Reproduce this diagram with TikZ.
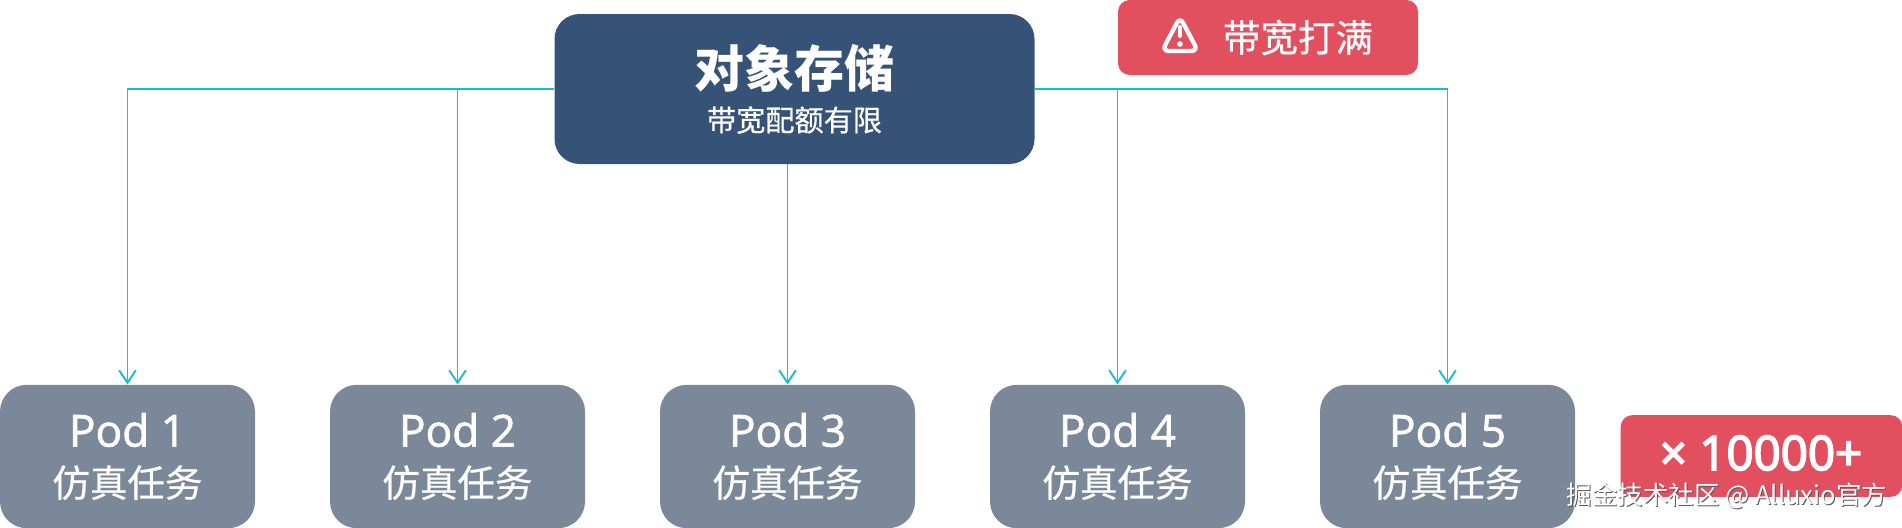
\documentclass[tikz,border=0pt]{standalone}
\usepackage{fontspec}
\setmainfont{Open Sans}
\newfontfamily\podfont[FakeBold=1.5]{Open Sans}
\newfontfamily\scalefont[FakeBold=3.5]{Open Sans}
\newfontfamily\cjk{Noto Sans CJK SC}
\newfontfamily\cjkmed[FakeBold=0.6]{Noto Sans CJK SC}
\usetikzlibrary{arrows.meta}
\definecolor{storeblue}{RGB}{55,82,119}
\definecolor{podgray}{RGB}{123,136,153}
\definecolor{alertred}{RGB}{226,80,96}
\definecolor{linecyan}{RGB}{20,192,208}

\begin{document}
\begin{tikzpicture}[x=0.6pt,y=0.6pt,yscale=-1,xscale=1,
  pod/.style = {fill=podgray, text=white, rounded corners=16pt, minimum width=153pt, minimum height=86pt, inner sep=0pt, align=center},
  store/.style = {fill=storeblue, text=white, rounded corners=15pt, minimum width=288pt, minimum height=90pt, inner sep=0pt, align=center},
  alert/.style = {fill=alertred, text=white, rounded corners=7pt, inner sep=0pt},
  link/.style = {draw=linecyan, line width=1.15pt},
  ->,
  >={Straight Barb[length=7.5pt,width=10pt]}
  ]

  \useasboundingbox (0,0) rectangle (1902,528);

  \node[store] (objstore) at (794.5,89) {{\cjk\bfseries\fontsize{30}{34}\selectfont 对象存储}\\[7.5pt]{\cjkmed\fontsize{17.5}{20}\selectfont 带宽配额有限}};

  \foreach \i/\x in {1/127.5,2/457.5,3/787.5,4/1117.5,5/1447.5}{
    \node[pod] (pod\i) at (\x,456.5) {{\podfont\fontsize{26.5}{28}\selectfont Pod \i}\\[10pt]{\cjkmed\fontsize{22.5}{26}\selectfont 仿真任务}};
  }

  \node[alert, minimum width=180pt, minimum height=45pt] (bw) at (1268,37.5) {};
  \node[text=white, font=\cjkmed\fontsize{22.5}{26}\selectfont] (bwtext) at (1298,37.5) {带宽打满};
  \node[alert, minimum width=169pt, minimum height=49pt] (scale) at (1761.5,456) {};
  \node[text=white, font=\scalefont\fontsize{28.5}{32}\selectfont] (scaletext) at (1761,453) {× 10000+};

  % warning icon
  \draw[-, white, line width=2.6pt, line join=round, rounded corners=4pt] (1180,17) -- (1198,51) -- (1162,51) -- cycle;
  \draw[-, white, line width=2.4pt, line cap=round] (1180,27) -- (1180,36);
  \fill[white] (1180,44) circle (1.7pt);

  \draw[link] (objstore.west) -| (pod1.north);
  \draw[link] (objstore.west) -| (pod2.north);
  \draw[link] (objstore.south -| pod3.north) -- (pod3.north);
  \draw[link] (objstore.east) -| (pod4.north);
  \draw[link] (objstore.east) -| (pod5.north);

  % watermark
  \node[text=black!65, font=\cjk\fontsize{15.3}{18}\selectfont] (markshadow) at (1728,497) {掘金技术社区 @ Alluxio官方};
  \node[text=white, font=\cjk\fontsize{15.3}{18}\selectfont] (mark) at (1727,496) {掘金技术社区 @ Alluxio官方};

\end{tikzpicture}
\end{document}
